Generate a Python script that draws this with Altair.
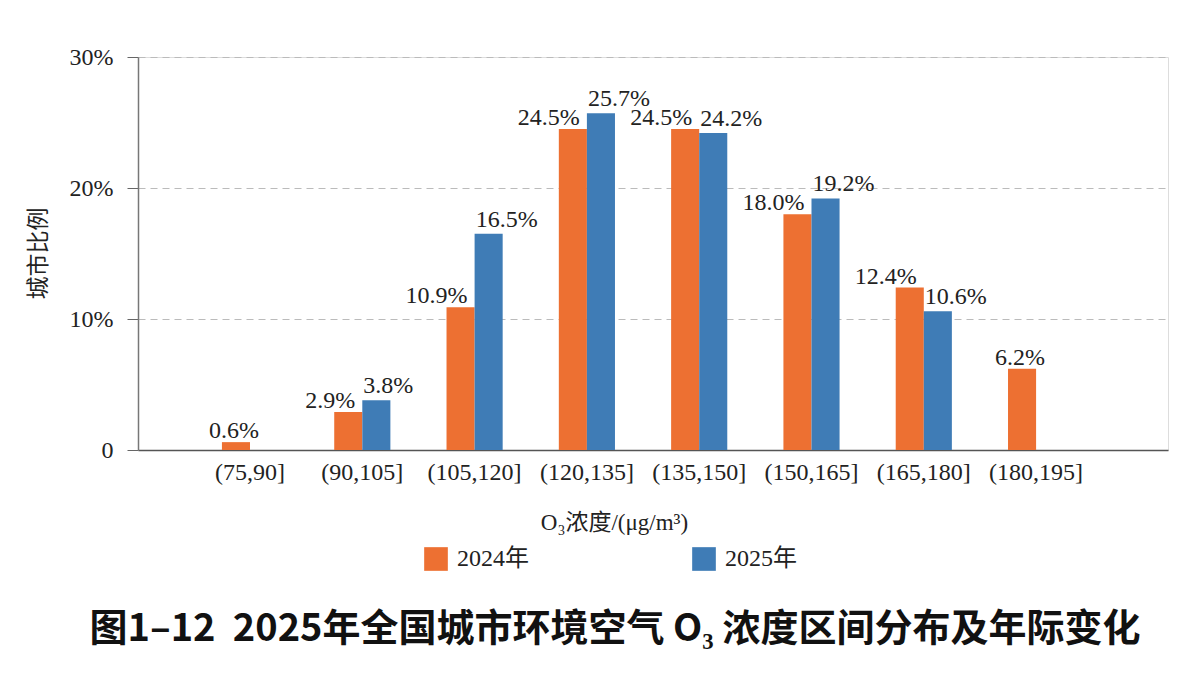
import altair as alt
import pandas as pd

# O3 concentration ranges (μg/m³) and share of cities in each range (%)
categories = ["(75,90]", "(90,105]", "(105,120]", "(120,135]",
              "(135,150]", "(150,165]", "(165,180]", "(180,195]"]
years = ["2024年", "2025年"]
share_2024 = [0.6, 2.9, 10.9, 24.5, 24.5, 18.0, 12.4, 6.2]
share_2025 = [None, 3.8, 16.5, 25.7, 24.2, 19.2, 10.6, None]
colors = ["#ED7032", "#3F7CB6"]

rows = []
for i, cat in enumerate(categories):
    paired = share_2024[i] is not None and share_2025[i] is not None
    for yr, series in zip(years, [share_2024, share_2025]):
        v = series[i]
        if v is None:
            continue
        if not paired:
            pos = "single"
        else:
            pos = "left" if yr == years[0] else "right"
        rows.append({"range": cat, "year": yr, "share": v, "pos": pos})
df = pd.DataFrame(rows)

serif = "'Liberation Serif', 'Noto Sans CJK SC', serif"
ink = "#222222"

x_enc = alt.X(
    "range:N",
    sort=categories,
    scale=alt.Scale(paddingInner=0.5, paddingOuter=0.836, align=0.447),
    axis=alt.Axis(
        title="O₃浓度/(μg/m³)",
        labelAngle=0,
        ticks=False,
        domainColor="#555555",
        domainWidth=1.5,
        labelFont=serif,
        labelFontSize=24,
        labelColor=ink,
        labelPadding=10,
        titleFont=serif,
        titleFontSize=23,
        titleFontWeight="normal",
        titleColor=ink,
        titleX=476,
        titleY=72,
        titleBaseline="middle",
    ),
)
xoff_enc = alt.XOffset(
    "year:N", scale=alt.Scale(domain=years, paddingInner=0, paddingOuter=0)
)
y_enc = alt.Y(
    "share:Q",
    scale=alt.Scale(domain=[0, 30], nice=False),
    axis=alt.Axis(
        values=[0, 10, 20, 30],
        labelExpr="datum.value == 0 ? '0' : datum.value + '%'",
        tickSize=11,
        tickColor="#666666",
        domainColor="#777777",
        domainWidth=1.5,
        grid=True,
        gridColor="#BBBBBB",
        gridDash=[7, 5],
        labelFont=serif,
        labelFontSize=24,
        labelColor=ink,
        labelPadding=14,
        title="城市比例",
        titleFont=serif,
        titleFontSize=23,
        titleFontWeight="normal",
        titleColor=ink,
        titleAngle=270,
        titleX=-100,
        titleY=196,
        titleBaseline="middle",
    ),
)

bars = alt.Chart(df).mark_bar().encode(
    x=x_enc,
    xOffset=xoff_enc,
    y=y_enc,
    color=alt.Color(
        "year:N",
        scale=alt.Scale(domain=years, range=colors),
        legend=alt.Legend(
            title=None,
            orient="none",
            legendX=286,
            legendY=490,
            direction="horizontal",
            symbolType="square",
            symbolSize=560,
            symbolStrokeWidth=0,
            symbolOpacity=1,
            labelFont=serif,
            labelFontSize=24,
            labelColor=ink,
            labelOffset=9,
            columnPadding=163,
        ),
    ),
)

text_base = alt.Chart(df).transform_calculate(
    label="format(datum.share, '.1f') + '%'"
).encode(
    x=alt.X("range:N", sort=categories),
    xOffset=alt.XOffset("year:N"),
    y=alt.Y("share:Q"),
    text="label:N",
)
label_style = dict(font=serif, fontSize=24, color=ink, baseline="alphabetic")

labels_left = text_base.transform_filter("datum.pos == 'left'").mark_text(
    align="right", dx=7, dy=-4, **label_style
)
labels_right = text_base.transform_filter("datum.pos == 'right'").mark_text(
    align="left", dx=-13, dy=-7, **label_style
)
labels_single = text_base.transform_filter("datum.pos == 'single'").mark_text(
    align="center", dx=-2, dy=-4, **label_style
)

chart = (
    alt.layer(bars, labels_left, labels_right, labels_single)
    .properties(
        width=1030,
        height=393,
        autosize=alt.AutoSizeParams(type="none"),
        padding={"left": 138, "top": 57, "right": 34, "bottom": 226},
        title=alt.TitleParams(
            "图1–12\u00a0\u00a02025年全国城市环境空气 O₃ 浓度区间分布及年际变化",
            orient="bottom",
            frame="group",
            anchor="middle",
            offset=40,
            dx=-38,
            font="Noto Sans CJK SC",
            fontSize=38,
            fontWeight="bold",
            color="#111111",
        ),
    )
    .configure_view(stroke=None)
    .configure(background="white")
)

chart.save("out.html", embed_options={"renderer": "svg", "actions": False})
